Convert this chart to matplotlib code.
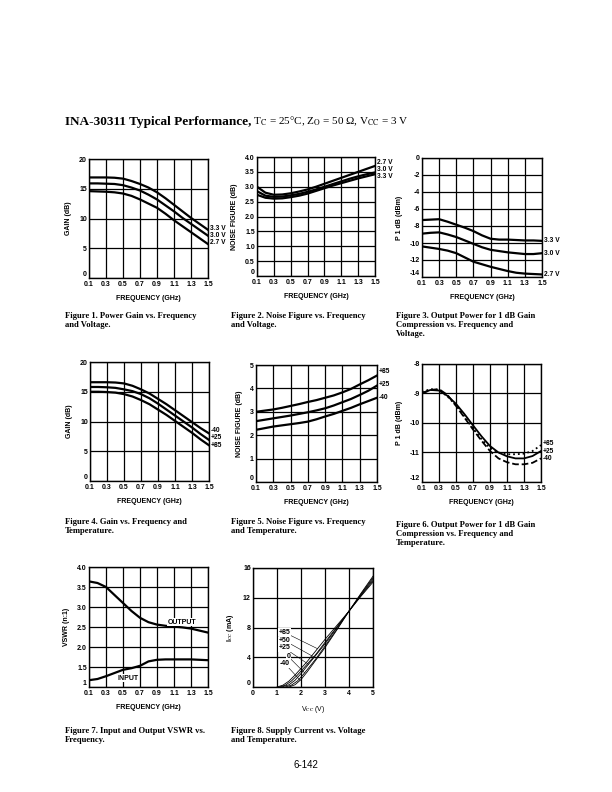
import numpy as np
import matplotlib
import matplotlib.pyplot as plt
from matplotlib.text import Annotation

matplotlib.use('agg')

plt.rcParams['font.family'] = 'Liberation Sans'
plt.rcParams['mathtext.fontset'] = 'stix'

# ---- data ----
freq = [0.1, 0.2, 0.3, 0.4, 0.5, 0.6, 0.7, 0.8, 0.9, 1.0, 1.1, 1.2, 1.3, 1.4, 1.5]
freq_ticks = [0.1, 0.3, 0.5, 0.7, 0.9, 1.1, 1.3, 1.5]
freq_ticklabels = ['0.1', '0.3', '0.5', '0.7', '0.9', '1.1', '1.3', '1.5']

volt_labels = ['3.3 V', '3.0 V', '2.7 V']
gain_volt = [
    [16.9, 16.9, 16.9, 16.85, 16.7, 16.3, 15.8, 15.2, 14.4, 13.4, 12.3, 11.2, 10.1, 9.1, 8.1],
    [15.9, 15.9, 15.85, 15.8, 15.6, 15.2, 14.7, 14.0, 13.2, 12.2, 11.2, 10.1, 9.1, 8.1, 7.1],
    [14.6, 14.55, 14.5, 14.4, 14.2, 13.8, 13.2, 12.5, 11.8, 10.8, 9.7, 8.7, 7.7, 6.7, 5.7],
]
gain_volt_label_y = [8.4, 7.15, 5.9]

nf_volt_labels = ['2.7 V', '3.0 V', '3.3 V']
nf_volt = [
    [3.0, 2.8, 2.73, 2.74, 2.78, 2.84, 2.91, 3.0, 3.1, 3.2, 3.3, 3.4, 3.5, 3.6, 3.7],
    [2.85, 2.7, 2.66, 2.67, 2.71, 2.76, 2.83, 2.91, 3.0, 3.09, 3.18, 3.27, 3.35, 3.42, 3.48],
    [2.73, 2.63, 2.6, 2.61, 2.65, 2.7, 2.77, 2.86, 2.95, 3.04, 3.12, 3.2, 3.28, 3.35, 3.42],
]
nf_volt_label_y = [3.8, 3.57, 3.34]

p1_volt = [
    [-7.3, -7.25, -7.2, -7.5, -7.85, -8.2, -8.6, -9.1, -9.5, -9.6, -9.6, -9.65, -9.7, -9.7, -9.75],
    [-8.9, -8.8, -8.75, -9.0, -9.3, -9.7, -10.1, -10.5, -10.8, -10.95, -11.1, -11.2, -11.3, -11.3, -11.2],
    [-10.4, -10.55, -10.7, -10.9, -11.2, -11.7, -12.2, -12.5, -12.8, -13.05, -13.3, -13.5, -13.6, -13.65, -13.7],
]
p1_volt_label_y = [-9.65, -11.2, -13.75]

temp_labels = ['-40', '+25', '+85']
gain_temp = [
    [16.6, 16.6, 16.6, 16.55, 16.4, 16.0, 15.4, 14.7, 13.8, 12.9, 11.9, 10.9, 9.9, 8.9, 8.0],
    [15.8, 15.8, 15.75, 15.65, 15.4, 15.1, 14.6, 13.9, 13.0, 12.0, 11.0, 10.0, 9.0, 7.9, 6.9],
    [15.0, 15.0, 14.95, 14.85, 14.6, 14.2, 13.6, 12.9, 12.0, 11.1, 10.1, 9.1, 8.1, 7.0, 6.0],
]
gain_temp_label_y = [8.45, 7.25, 6.05]

nf_temp_labels = ['+85', '+25', '-40']
nf_temp = [
    [3.0, 3.05, 3.1, 3.17, 3.25, 3.33, 3.42, 3.5, 3.6, 3.7, 3.83, 3.98, 4.17, 4.35, 4.55],
    [2.6, 2.66, 2.72, 2.78, 2.84, 2.91, 2.98, 3.06, 3.15, 3.27, 3.41, 3.55, 3.72, 3.9, 4.12],
    [2.23, 2.3, 2.37, 2.42, 2.47, 2.52, 2.58, 2.68, 2.8, 2.91, 3.04, 3.17, 3.32, 3.46, 3.6],
]
nf_temp_label_y = [4.72, 4.15, 3.6]

p1_temp_labels = ['+85', '+25', '-40']
p1_temp = [
    [-8.95, -8.85, -8.88, -9.1, -9.4, -9.78, -10.18, -10.55, -10.85, -11.0, -11.06, -11.06, -11.04, -10.95, -10.75],
    [-8.98, -8.88, -8.9, -9.08, -9.35, -9.7, -10.08, -10.45, -10.78, -11.0, -11.13, -11.2, -11.2, -11.12, -10.95],
    [-9.0, -8.88, -8.85, -9.05, -9.42, -9.82, -10.22, -10.6, -10.95, -11.2, -11.33, -11.4, -11.4, -11.35, -11.2],
]
p1_temp_styles = [':', '-', '--']
p1_temp_label_y = [-10.68, -10.95, -11.22]

vswr_output = [3.64, 3.6, 3.5, 3.3, 3.1, 2.9, 2.73, 2.62, 2.56, 2.53, 2.51, 2.49, 2.46, 2.41, 2.36]
vswr_input = [1.17, 1.2, 1.27, 1.35, 1.43, 1.47, 1.53, 1.64, 1.68, 1.69, 1.69, 1.69, 1.69, 1.68, 1.67]

icc_labels = ['+85', '+50', '+25', '0', '-40']
icc_label_y = [7.35, 6.25, 5.25, 4.1, 3.1]
icc_v = [
    [1.0, 1.25, 1.5, 1.75, 2.0, 2.25, 2.5, 3.0, 3.5, 4.0, 4.5, 5.0],
    [1.1, 1.35, 1.6, 1.85, 2.1, 2.35, 2.6, 3.0, 3.5, 4.0, 4.5, 5.0],
    [1.2, 1.5, 1.75, 2.0, 2.25, 2.5, 2.75, 3.0, 3.5, 4.0, 4.5, 5.0],
    [1.35, 1.6, 1.85, 2.1, 2.35, 2.6, 2.8, 3.0, 3.5, 4.0, 4.5, 5.0],
    [1.5, 1.75, 2.0, 2.25, 2.5, 2.75, 2.9, 3.0, 3.5, 4.0, 4.5, 5.0],
]
icc_i = [
    [0.0, 0.25, 0.8, 1.6, 2.5, 3.4, 4.4, 6.4, 8.3, 10.2, 12.2, 14.1],
    [0.0, 0.25, 0.8, 1.6, 2.5, 3.4, 4.3, 6.0, 8.1, 10.2, 12.3, 14.3],
    [0.0, 0.3, 0.9, 1.8, 2.8, 3.8, 4.8, 5.8, 8.0, 10.2, 12.4, 14.5],
    [0.0, 0.25, 0.8, 1.7, 2.7, 3.7, 4.6, 5.5, 7.8, 10.2, 12.5, 14.7],
    [0.0, 0.3, 1.0, 2.0, 3.1, 4.2, 4.85, 5.3, 7.7, 10.2, 12.6, 14.9],
]

captions = [
    'Figure 1. Power Gain vs. Frequency\nand Voltage.',
    'Figure 2. Noise Figure vs. Frequency\nand Voltage.',
    'Figure 3. Output Power for 1 dB Gain\nCompression vs. Frequency and\nVoltage.',
    'Figure 4. Gain vs. Frequency and\nTemperature.',
    'Figure 5. Noise Figure vs. Frequency\nand Temperature.',
    'Figure 6. Output Power for 1 dB Gain\nCompression vs. Frequency and\nTemperature.',
    'Figure 7. Input and Output VSWR vs.\nFrequency.',
    'Figure 8. Supply Current vs. Voltage\nand Temperature.',
]

W, H = 612, 792
fig = plt.figure(figsize=(6.12, 7.92), dpi=100)


def box(l, t, r, b):
    return fig.add_axes([l / W, 1 - b / H, (r - l) / W, (b - t) / H])


def style(ax, ylim, yticks, yticklabels, ylabel, xlim=(0.1, 1.5), xticks=freq_ticks,
          xticklabels=freq_ticklabels, xlabel='FREQUENCY (GHz)', bold=True):
    ax.set_xlim(*xlim)
    ax.set_ylim(*ylim)
    ax.set_xticks(xticks)
    ax.set_xticklabels(xticklabels, fontsize=5, fontweight='bold')
    ax.set_yticks(yticks)
    ax.set_yticklabels(yticklabels, fontsize=5, fontweight='bold')
    ax.tick_params(length=0, pad=1.5)
    ax.tick_params(axis='x', pad=2)
    # lowest y label sits just above the corner, as on the page
    low = min(range(len(yticks)), key=lambda k: yticks[k])
    ax.get_yticklabels()[low].set_va('bottom')
    ax.grid(True, color='black', lw=0.9)
    for s in ax.spines.values():
        s.set_linewidth(1.0)
    ax.set_xlabel(xlabel, fontsize=5, fontweight='bold' if bold else 'normal', labelpad=5)
    ax.set_ylabel(ylabel, fontsize=5, fontweight='bold', labelpad=5)


def right_labels(ax, labels, ys, x=1.52):
    for lab, y in zip(labels, ys):
        ax.text(x, y, lab, fontsize=4.8, fontweight='bold', ha='left', va='center', clip_on=False)


# Figure 1
ax = box(89, 159, 208, 278)
for y in gain_volt:
    ax.plot(freq, y, color='black', lw=1.6)
style(ax, (0, 20), [0, 5, 10, 15, 20], ['0', '5', '10', '15', '20'], 'GAIN (dB)')
right_labels(ax, volt_labels, gain_volt_label_y)

# Figure 2
ax = box(257, 157, 375, 276)
for y in nf_volt:
    ax.plot(freq, y, color='black', lw=1.6)
nf_ticks = [0, 0.5, 1.0, 1.5, 2.0, 2.5, 3.0, 3.5, 4.0]
style(ax, (0, 4), nf_ticks, ['0', '0.5', '1.0', '1.5', '2.0', '2.5', '3.0', '3.5', '4.0'],
      'NOISE FIGURE (dB)')
right_labels(ax, nf_volt_labels, nf_volt_label_y)

# Figure 3
ax = box(422, 158, 542, 277)
for y in p1_volt:
    ax.plot(freq, y, color='black', lw=1.6)
p1_ticks = [0, -2, -4, -6, -8, -10, -12, -14]
style(ax, (-14, 0), p1_ticks, [str(t) for t in p1_ticks], 'P 1 dB (dBm)')
right_labels(ax, volt_labels, p1_volt_label_y)

# Figure 4
ax = box(90, 362, 209, 481)
for y in gain_temp:
    ax.plot(freq, y, color='black', lw=1.6)
style(ax, (0, 20), [0, 5, 10, 15, 20], ['0', '5', '10', '15', '20'], 'GAIN (dB)')
right_labels(ax, temp_labels, gain_temp_label_y)

# Figure 5
ax = box(256, 365, 377, 482)
for y in nf_temp:
    ax.plot(freq, y, color='black', lw=1.6)
style(ax, (0, 5), [0, 1, 2, 3, 4, 5], ['0', '1', '2', '3', '4', '5'], 'NOISE FIGURE (dB)')
right_labels(ax, nf_temp_labels, nf_temp_label_y)

# Figure 6
ax = box(422, 364, 541, 482)
for y, ls in zip(p1_temp, p1_temp_styles):
    ax.plot(freq, y, color='black', lw=1.3, ls=ls)
style(ax, (-12, -8), [-12, -11, -10, -9, -8], ['-12', '-11', '-10', '-9', '-8'], 'P 1 dB (dBm)')
right_labels(ax, p1_temp_labels, p1_temp_label_y)

# Figure 7
ax = box(89, 567, 208, 687)
ax.plot(freq, vswr_output, color='black', lw=1.6)
ax.plot(freq, vswr_input, color='black', lw=1.6)
vs_ticks = [1, 1.5, 2.0, 2.5, 3.0, 3.5, 4.0]
style(ax, (1, 4), vs_ticks, ['1', '1.5', '2.0', '2.5', '3.0', '3.5', '4.0'], 'VSWR (n:1)')
ax.text(1.2, 2.62, 'OUTPUT', fontsize=5, fontweight='bold', ha='center', va='center',
        bbox=dict(facecolor='white', edgecolor='none', pad=0.5))
ax.text(0.56, 1.22, 'INPUT', fontsize=5, fontweight='bold', ha='center', va='center',
        bbox=dict(facecolor='white', edgecolor='none', pad=0.5))

# Figure 8
ax = box(253, 568, 373, 687)
for v, i in zip(icc_v, icc_i):
    ax.plot(v, i, color='black', lw=0.6)
style(ax, (0, 16), [0, 4, 8, 12, 16], ['0', '4', '8', '12', '16'], 'I$_{\\rm CC}$ (mA)',
      xlim=(0, 5), xticks=[0, 1, 2, 3, 4, 5], xticklabels=['0', '1', '2', '3', '4', '5'],
      xlabel='V$_{\\rm CC}$ (V)', bold=False)
for lab, yl, v, i in zip(icc_labels, icc_label_y, icc_v, icc_i):
    target = yl - 2.2
    ax.annotate(lab, xy=(np.interp(target, i, v), target), xytext=(1.55, yl),
                fontsize=5, fontweight='bold', ha='right', va='center',
                bbox=dict(facecolor='white', edgecolor='none', pad=0.3),
                arrowprops=dict(arrowstyle='-', lw=0.4, color='black', shrinkA=0, shrinkB=0))

# captions
cap_pos = [(65, 312), (231, 312), (396, 312), (65, 518), (231, 518), (396, 521),
           (65, 727), (231, 727)]
for (x, y), txt in zip(cap_pos, captions):
    fig.text(x / W, 1 - y / H, txt, family='Liberation Serif', fontweight='bold',
             fontsize=6.2, va='top', ha='left', linespacing=1.15)

# title
t1 = fig.text(65 / W, 1 - 125 / H, 'INA-30311 Typical Performance,', family='Liberation Serif',
              fontweight='bold', fontsize=9.5, va='baseline')
t2 = Annotation(' T$_{\\rm C}$ = 25°C, Z$_{\\rm O}$ = 50 Ω, V$_{\\rm CC}$ = 3 V', xy=(1, 0),
                xycoords=t1, va='bottom', family='Liberation Serif', fontsize=8)
fig.add_artist(t2)

fig.text(306 / W, 1 - 765 / H, '6-142', fontsize=7, ha='center', va='center')

fig.savefig('out.png', dpi=100)
